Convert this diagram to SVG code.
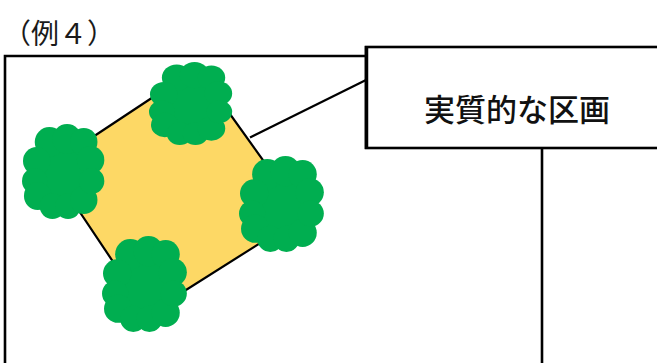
<svg xmlns="http://www.w3.org/2000/svg" xmlns:xlink="http://www.w3.org/1999/xlink" width="657" height="363" viewBox="0 0 657 363">
  <style>
    .frame { fill: none; stroke: #000; stroke-width: 2.6; }
    .lot { fill: #FDD865; stroke: #000; stroke-width: 2.2; stroke-linejoin: round; }
    .leader { fill: none; stroke: #000; stroke-width: 2.2; }
    .tree { fill: #00AE50; }
    .title { font-family: "Liberation Serif", "Noto Sans CJK JP", serif; font-size: 28px; fill: #1a1a1a; }
    .label { font-family: "Noto Sans CJK JP", sans-serif; font-size: 31px; font-weight: 500; fill: #111; text-anchor: middle; dominant-baseline: central; }
  </style>
  <defs>
    <!-- cloud-shaped tree crown, drawn in a 84 x 96 box -->
    <g id="crown">
      <ellipse cx="42" cy="50" rx="35" ry="37"/>
      <circle cx="28" cy="19" r="15"/>
      <circle cx="46" cy="16" r="15"/>
      <circle cx="63" cy="19" r="14"/>
      <circle cx="15" cy="38" r="14"/>
      <circle cx="13" cy="58" r="13"/>
      <circle cx="16" cy="73" r="14"/>
      <circle cx="31" cy="83" r="13"/>
      <circle cx="47" cy="83" r="13"/>
      <circle cx="63" cy="77" r="14"/>
      <circle cx="70" cy="37" r="14"/>
      <circle cx="71" cy="58" r="13"/>
    </g>
  </defs>

  <rect width="657" height="363" fill="#fff"/>

  <text class="title" x="3" y="44">（例４）</text>

  <!-- site boundary -->
  <g id="site">
    <polyline class="frame" points="5,363 5,56 366,56"/>
  </g>

  <!-- connectors -->
  <g id="connectors">
    <line class="leader" x1="250" y1="137.5" x2="366" y2="80"/>
    <line class="frame" x1="542" y1="148" x2="542" y2="363"/>
  </g>

  <!-- effective lot with trees at corners -->
  <g id="lot">
    <polygon class="lot" points="49,166 197,68 303,216 148,314"/>
  </g>
  <g id="tree-top" class="tree">
    <use xlink:href="#crown" transform="translate(149,61) scale(0.99,0.875)"/>
  </g>
  <g id="tree-left" class="tree">
    <use xlink:href="#crown" transform="translate(22,123) scale(0.98,1)"/>
  </g>
  <g id="tree-right" class="tree">
    <use xlink:href="#crown" transform="translate(239,155) scale(1.01,1.01)"/>
  </g>
  <g id="tree-bottom" class="tree">
    <use xlink:href="#crown" transform="translate(102,235) scale(1.01,1.01)"/>
  </g>

  <!-- label box -->
  <g id="label">
    <rect class="frame" x="366" y="47" width="300" height="101"/>
    <line x1="366.5" y1="46" x2="366.5" y2="149" stroke="#000" stroke-width="3.5"/>
    <text class="label" x="517" y="107">実質的な区画</text>
  </g>
</svg>
